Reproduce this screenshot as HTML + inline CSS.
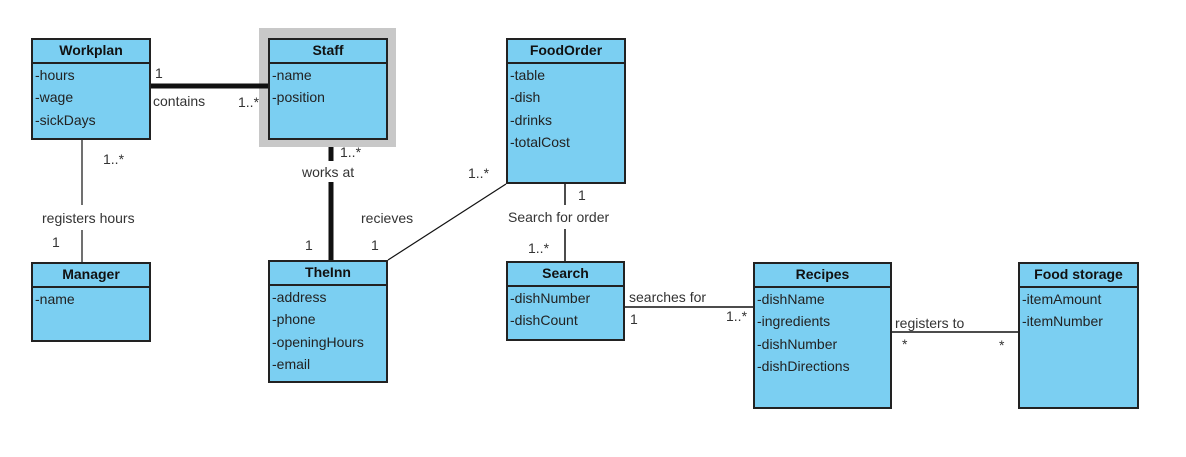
<!DOCTYPE html>
<html><head><style>
body{margin:0;width:1186px;height:457px;background:#fff;position:relative;font-family:"Liberation Sans",Arial,sans-serif;overflow:hidden}
.c{position:absolute;background:#7bcff2;border:2px solid #222;box-sizing:border-box}
.c .h{height:22px;border-bottom:2px solid #222;font-weight:bold;font-size:14px;text-align:center;line-height:21px;color:#111}
.c .a{font-size:14px;color:#222;padding-left:2px;line-height:22.3px;padding-top:0}
.t{position:absolute;font-size:14px;color:#333;white-space:nowrap}
svg{position:absolute;left:0;top:0}
</style></head><body>
<div style="position:absolute;left:259px;top:28px;width:137px;height:119px;background:#c8c8c8"></div>
<svg width="1186" height="457">
<g stroke="#111" fill="none">
<line x1="151" y1="86" x2="268" y2="86" stroke-width="5"/>
<line x1="331" y1="147" x2="331" y2="161" stroke-width="5"/>
<line x1="331" y1="182" x2="331" y2="261" stroke-width="5"/>
<line x1="82" y1="140" x2="82" y2="205" stroke-width="1.2"/>
<line x1="82" y1="230" x2="82" y2="262" stroke-width="1.2"/>
<line x1="388" y1="260" x2="506" y2="184" stroke-width="1.2"/>
<line x1="565" y1="184" x2="565" y2="205" stroke-width="1.5"/>
<line x1="565" y1="229" x2="565" y2="261" stroke-width="1.5"/>
<line x1="624" y1="307" x2="753" y2="307" stroke-width="1.5"/>
<line x1="891" y1="332" x2="1018" y2="332" stroke-width="1.5"/>
</g></svg>
<div class="c" style="left:31px;top:38px;width:120px;height:102px"><div class="h">Workplan</div><div class="a">-hours<br>-wage<br>-sickDays</div></div>
<div class="c" style="left:268px;top:38px;width:120px;height:102px"><div class="h">Staff</div><div class="a">-name<br>-position</div></div>
<div class="c" style="left:31px;top:262px;width:120px;height:80px"><div class="h">Manager</div><div class="a">-name</div></div>
<div class="c" style="left:268px;top:260px;width:120px;height:123px"><div class="h">TheInn</div><div class="a">-address<br>-phone<br>-openingHours<br>-email</div></div>
<div class="c" style="left:506px;top:38px;width:120px;height:146px"><div class="h">FoodOrder</div><div class="a">-table<br>-dish<br>-drinks<br>-totalCost</div></div>
<div class="c" style="left:506px;top:261px;width:119px;height:80px"><div class="h">Search</div><div class="a">-dishNumber<br>-dishCount</div></div>
<div class="c" style="left:753px;top:262px;width:139px;height:147px"><div class="h">Recipes</div><div class="a">-dishName<br>-ingredients<br>-dishNumber<br>-dishDirections</div></div>
<div class="c" style="left:1018px;top:262px;width:121px;height:147px"><div class="h">Food storage</div><div class="a">-itemAmount<br>-itemNumber</div></div>
<div class="t" style="left:155px;top:65px">1</div>
<div class="t" style="left:153px;top:93px">contains</div>
<div class="t" style="left:238px;top:94px">1..*</div>
<div class="t" style="left:103px;top:151px">1..*</div>
<div class="t" style="left:42px;top:210px">registers hours</div>
<div class="t" style="left:52px;top:234px">1</div>
<div class="t" style="left:340px;top:144px">1..*</div>
<div class="t" style="left:302px;top:164px">works at</div>
<div class="t" style="left:305px;top:237px">1</div>
<div class="t" style="left:361px;top:210px">recieves</div>
<div class="t" style="left:371px;top:237px">1</div>
<div class="t" style="left:468px;top:165px">1..*</div>
<div class="t" style="left:578px;top:187px">1</div>
<div class="t" style="left:508px;top:209px">Search for order</div>
<div class="t" style="left:528px;top:240px">1..*</div>
<div class="t" style="left:629px;top:289px">searches for</div>
<div class="t" style="left:630px;top:311px">1</div>
<div class="t" style="left:726px;top:308px">1..*</div>
<div class="t" style="left:895px;top:315px">registers to</div>
<div class="t" style="left:902px;top:336px">*</div>
<div class="t" style="left:999px;top:337px">*</div>
</body></html>
